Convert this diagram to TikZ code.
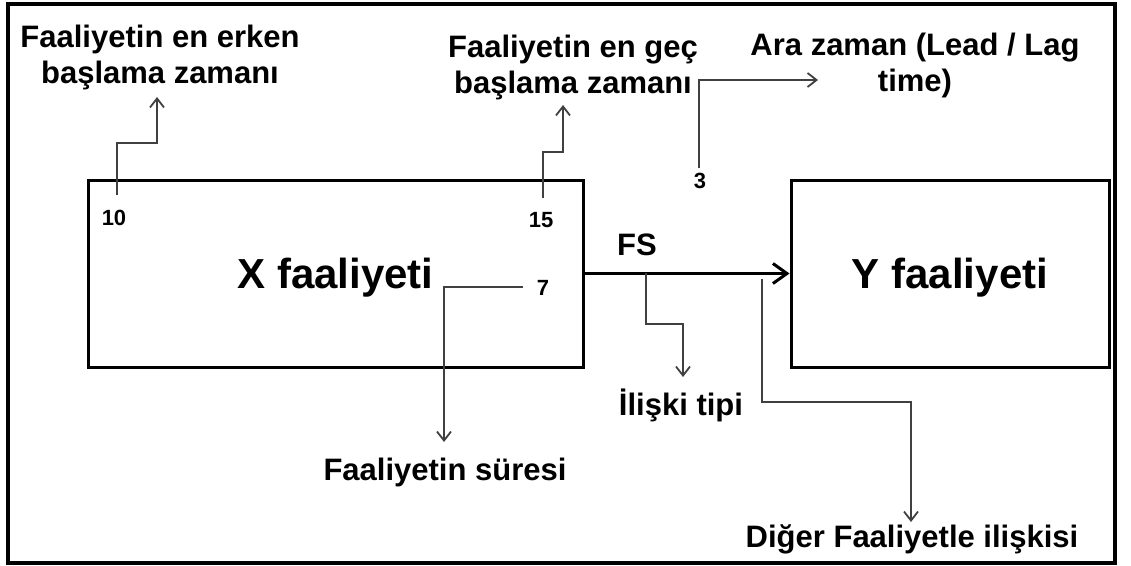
\documentclass[tikz,border=0pt]{standalone}
\usepackage{fontspec}
\setmainfont{Liberation Sans}
\usetikzlibrary{arrows.meta}
\begin{document}
\begin{tikzpicture}[x=1pt,y=-1pt,
  lab/.style={font=\bfseries\fontsize{31}{36}\selectfont, inner sep=0pt, align=center},
  num/.style={font=\bfseries\fontsize{22}{26}\selectfont, inner sep=0pt},
  actbox/.style={draw, line width=3pt, inner sep=0pt, text depth=0pt,
    font=\bfseries\fontsize{42}{48}\selectfont},
  conn/.style={draw=black!75, line width=1.8pt, line join=miter,
    -{Straight Barb[length=9pt,width=14pt]}},
  rel/.style={line width=3pt, -{Straight Barb[length=14pt,width=20pt]}}]
\useasboundingbox (0,0) rectangle (1131,565);
% outer frame
\node (frame) [draw, line width=4pt, inner sep=0pt, minimum width=1107pt,
  minimum height=559pt] at (561.5,283.5) {};
% activity boxes
\node (X) [actbox, minimum width=495pt, minimum height=187pt] at (335.5,273.5) {X faaliyeti};
\node (Y) [actbox, minimum width=318pt, minimum height=187pt] at (950,273.5) {Y faaliyeti};
\draw[rel] (X.east) -- (Y.west);
\node (fs) [lab, anchor=base] at (637,255) {FS};
% numbers
\node (n10) [num, anchor=base] at (114,225) {10};
\node (n15) [num, anchor=base] at (541,227) {15};
\node (n7)  [num, anchor=base] at (543,295) {7};
\node (n3)  [num, anchor=base] at (700,188) {3};
% labels
\node (l1) [lab, anchor=north] at (160,25) {Faaliyetin en erken\\başlama zamanı};
\node (l2) [lab, anchor=north] at (573,35) {Faaliyetin en geç\\başlama zamanı};
\node (l3) [lab, anchor=north] at (915,33) {Ara zaman (Lead / Lag\\time)};
\node (ldur)   [lab, anchor=base] at (445,480) {Faaliyetin süresi};
\node (ltype)  [lab, anchor=base] at (681,415) {İlişki tipi};
\node (lother) [lab, anchor=base] at (912,547) {Diğer Faaliyetle ilişkisi};
% connector end points
\coordinate (s10) at (117,195);  \coordinate (e10) at (157,97);
\coordinate (s15) at (543,198);  \coordinate (e15) at (563,105);
\coordinate (s3)  at (699,168);  \coordinate (e3)  at (818,80);
\coordinate (s7)  at (523,287);  \coordinate (e7)  at (444,442);
\coordinate (sfs) at (646,273);  \coordinate (efs) at (683,377);
\coordinate (sy)  at (762,279);  \coordinate (ey)  at (911,522);
% connectors
\draw[conn] (s10) -- (117,143) -- (157,143) -- (e10);
\draw[conn] (s15) -- (543,152) -- (563,152) -- (e15);
\draw[conn] (s3) |- (e3);
\draw[conn] (s7) -| (e7);
\draw[conn] (sfs) -- (646,324) -- (683,324) -- (efs);
\draw[conn] (sy) -- (762,402) -- (911,402) -- (ey);
\end{tikzpicture}
\end{document}
